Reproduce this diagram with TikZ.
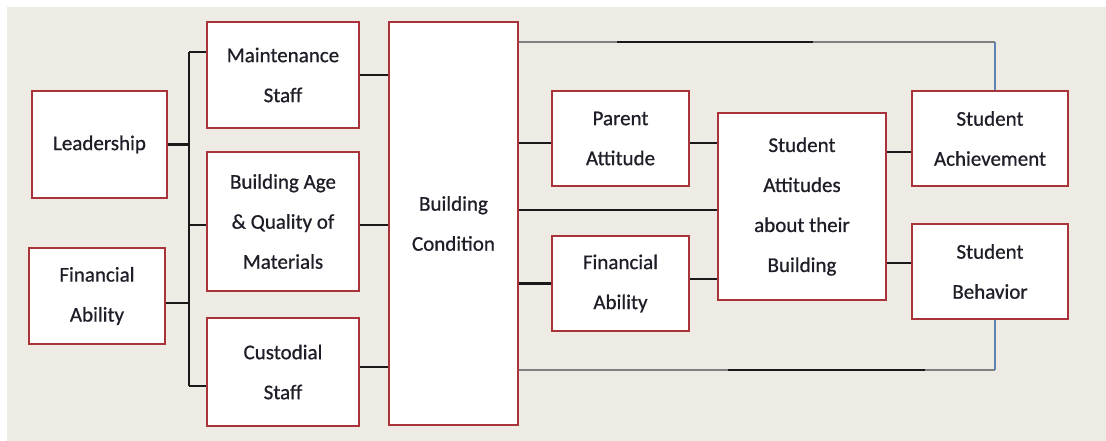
\documentclass[tikz,border=0pt]{standalone}
\usepackage{fontspec}
\setmainfont{Carlito}
\newfontfamily\boxfont{Carlito}[FakeBold=0.7]
\usetikzlibrary{calc}
\definecolor{panel}{HTML}{EDEBE4}
\definecolor{boxred}{HTML}{A8343A}
\definecolor{linegray}{HTML}{808080}
\definecolor{lineblue}{HTML}{5B84B5}
\definecolor{txt}{HTML}{1E1E28}
\tikzset{
  box/.style={draw=boxred, line width=2.2pt, fill=white, align=center, inner sep=0pt,
    text=txt, font=\boxfont\fontsize{21}{40}\selectfont},
  conn/.style={draw=black!90, line width=2.8pt},
  gconn/.style={draw=linegray, line width=2.8pt},
  bconn/.style={draw=lineblue, line width=1.8pt},
}
\begin{document}
\begin{tikzpicture}[x=1pt,y=-1pt]
\useasboundingbox (0,0) rectangle (1106,441);
\fill[panel] (7,7) rectangle (1106,441);
% nodes
\node[box, minimum width=135pt, minimum height=107pt] (lead) at (99.5,144.5) {Leadership};
\node[box, minimum width=136pt, minimum height=96pt] (finL) at (97,296) {Financial\\Ability};
\node[box, minimum width=152pt, minimum height=106pt] (maint) at (283,75) {Maintenance\\Staff};
\node[box, minimum width=152pt, minimum height=139pt] (age) at (283,221.5) {Building Age\\\& Quality of\\Materials};
\node[box, minimum width=152pt, minimum height=108pt] (cust) at (283,372) {Custodial\\Staff};
\node[box, minimum width=129pt, minimum height=403pt] (bc) at (453.5,223.5) {Building\\Condition};
\node[box, minimum width=137pt, minimum height=95pt] (par) at (620.5,138.5) {Parent\\Attitude};
\node[box, minimum width=137pt, minimum height=95pt] (finR) at (620.5,283.5) {Financial\\Ability};
\node[box, minimum width=168pt, minimum height=187pt] (sa) at (802,206.5) {Student\\Attitudes\\about their\\Building};
\node[box, minimum width=156pt, minimum height=95pt] (ach) at (990,138.5) {Student\\Achievement};
\node[box, minimum width=156pt, minimum height=95pt] (beh) at (990,271.5) {Student\\Behavior};
% bus
\coordinate (busT) at (189,52);
\coordinate (busB) at (189,386);
\draw[conn] (busT) -- (busB);
\draw[conn] (lead.east) -- (lead.east -| busT);
\draw[conn] ([yshift=-7pt]finL.east) -- ([yshift=-7pt]finL.east -| busT);
\draw[conn] (busT) -- (busT -| maint.west);
\draw[conn] ([yshift=-3.5pt]age.west -| busT) -- ([yshift=-3.5pt]age.west);
\draw[conn] (busB) -- (busB -| cust.west);
% to building condition
\draw[conn] (maint.east) -- (maint.east -| bc.west);
\draw[conn] ([yshift=-3.5pt]age.east) -- ([yshift=-3.5pt]age.east -| bc.west);
\draw[conn] ([yshift=5pt]cust.east) -- ([yshift=5pt]cust.east -| bc.west);
% middle
\draw[conn] ([yshift=-4.5pt]par.west -| bc.east) -- ([yshift=-4.5pt]par.west);
\draw[conn] ([yshift=-4.5pt]par.east) -- ([yshift=-4.5pt]par.east -| sa.west);
\draw[conn] ([yshift=-3.5pt]sa.west -| bc.east) -- ([yshift=-3.5pt]sa.west);
\draw[conn] (finR.west -| bc.east) -- (finR.west);
\draw[conn] ([yshift=4.5pt]finR.east) -- ([yshift=4.5pt]finR.east -| sa.west);
\draw[conn] ([yshift=-13.5pt]ach.west -| sa.east) -- ([yshift=-13.5pt]ach.west);
\draw[conn] ([yshift=8.5pt]beh.west -| sa.east) -- ([yshift=8.5pt]beh.west);
% top feedback line
\coordinate (tA) at (bc.east |- 0,42);
\coordinate (tB) at (617,42);
\coordinate (tC) at (813,42);
\coordinate (tD) at ([xshift=5pt]ach.north |- 0,42);
\draw[gconn] (tA) -- (tB);
\draw[conn] (tB) -- (tC);
\draw[gconn] (tC) -- (tD);
\draw[bconn] (tD) -- ([xshift=5pt]ach.north);
% bottom feedback line
\coordinate (bA) at (bc.east |- 0,370);
\coordinate (bB) at (728,370);
\coordinate (bC) at (925,370);
\coordinate (bD) at ([xshift=5pt]beh.south |- 0,370);
\draw[gconn] (bA) -- (bB);
\draw[conn] (bB) -- (bC);
\draw[gconn] (bC) -- (bD);
\draw[bconn] (bD) -- ([xshift=5pt]beh.south);
\end{tikzpicture}
\end{document}
